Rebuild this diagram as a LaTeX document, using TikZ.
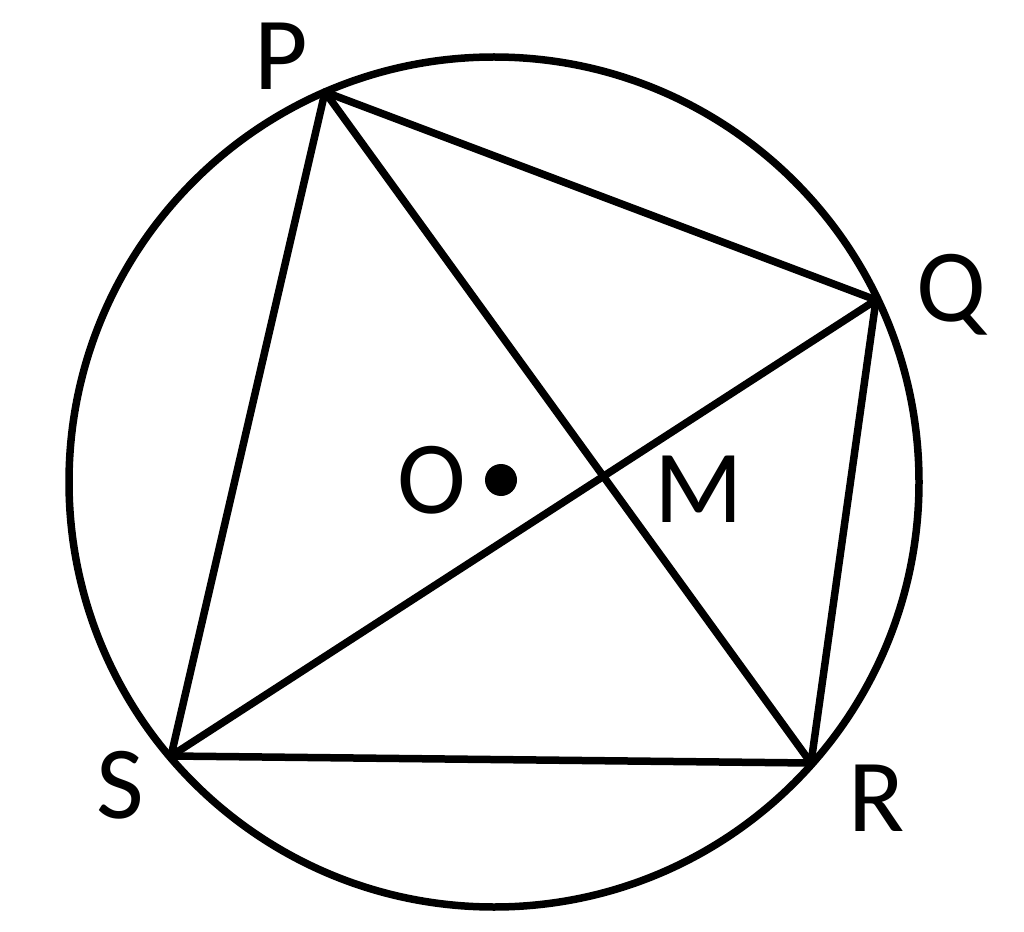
\documentclass[tikz,border=0pt]{standalone}
\usepackage{fontspec}
\setmainfont{Carlito}
\begin{document}
\begin{tikzpicture}[x=0.02cm,y=-0.02cm,
  geo/.style={line width=0.15cm,line cap=round,line join=round},
  lbl/.style={anchor=base,inner sep=0pt,font=\fontsize{59}{60}\selectfont}]
\useasboundingbox (0,0) rectangle (1024,932);
\coordinate (C) at (494,482);
\coordinate (P) at (325,92);
\coordinate (Q) at (876,300);
\coordinate (R) at (811,763);
\coordinate (S) at (171,756);
\draw[geo] (C) circle [radius=425];
\draw[geo] (P) -- (Q) -- (R) -- (S) -- cycle;
\draw[geo] (P) -- (R);
\draw[geo] (Q) -- (S);
\fill (501,480) circle [radius=16] coordinate (O);
\node[lbl] (lP) at (281,90) {P};
\node[lbl] (lQ) at (951,322) {Q};
\node[lbl] (lR) at (877,831) {R};
\node[lbl] (lS) at (120,818) {S};
\node[lbl] (lO) at (432,513) {O};
\node[lbl] (lM) at (699,522) {M};
\end{tikzpicture}
\end{document}
